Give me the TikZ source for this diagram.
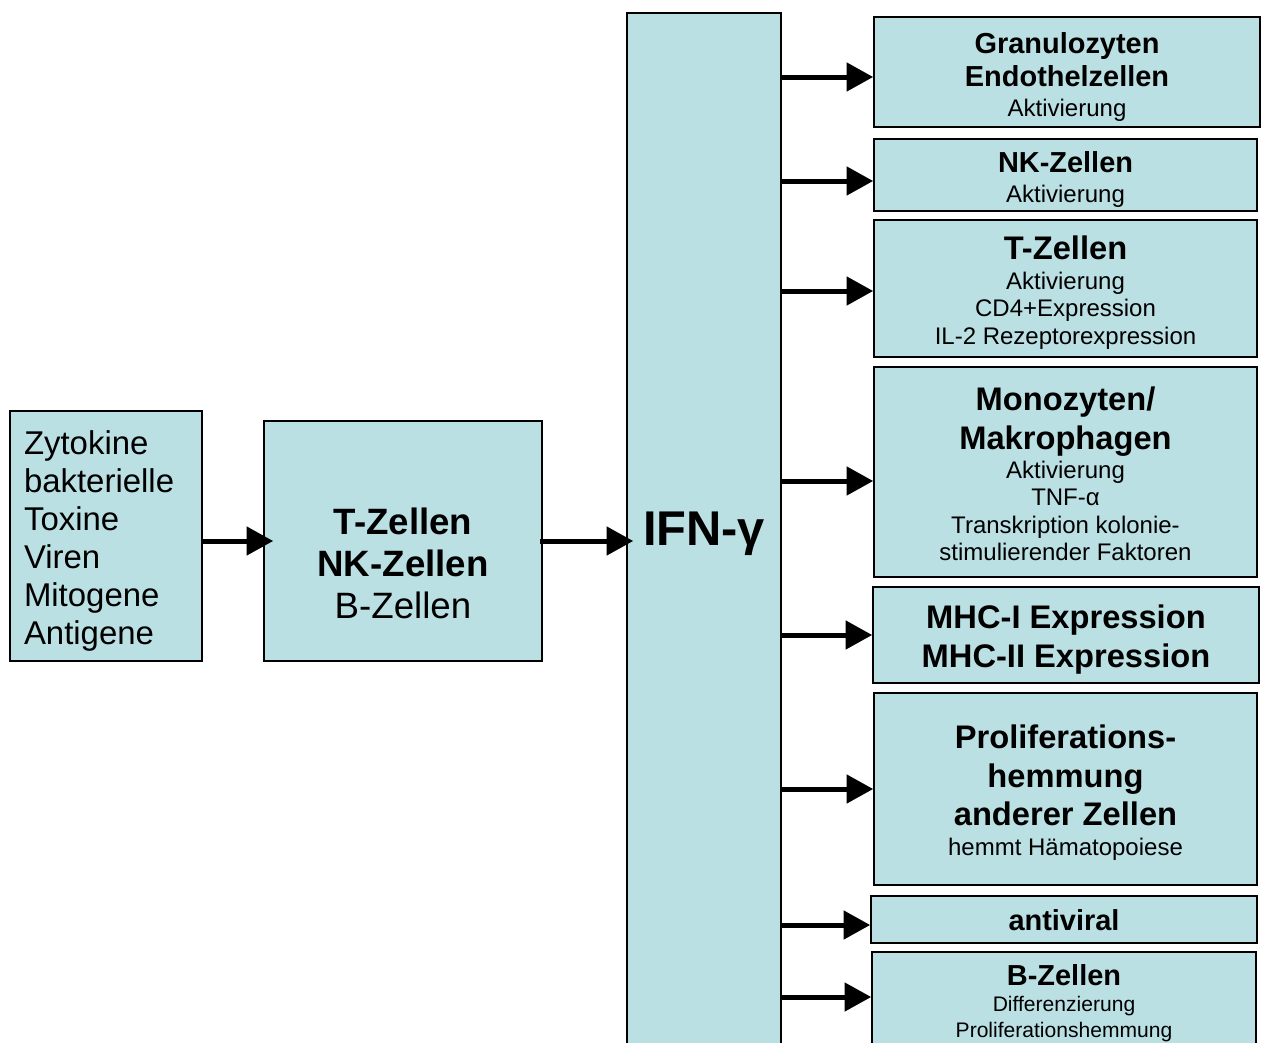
\documentclass[tikz,border=0pt]{standalone}
\usepackage{fontspec}
\setmainfont{Liberation Sans}
\usetikzlibrary{arrows.meta}

\definecolor{hellblau}{RGB}{187,224,227}
\newcommand{\kopf}{\fontsize{21.7pt}{24.75pt}\selectfont\bfseries}
\newcommand{\kopfgross}{\fontsize{24.5pt}{29pt}\selectfont\bfseries}
\newcommand{\klein}{\fontsize{18pt}{20.5pt}\selectfont}
\newcommand{\winzig}{\fontsize{15.8pt}{19pt}\selectfont}

\tikzset{
	feld/.style 2 args={draw, line width=1.2pt, fill=hellblau, inner sep=0pt,
		minimum width=#1*0.75pt, minimum height=#2*0.75pt},
	inhalt/.style={inner sep=0pt, align=center, font=\klein, yshift=-#1*0.75pt},
	pfeil/.style={-{Triangle[length=20pt,width=21pt]}, line width=3.75pt},
}

\begin{document}
\begin{tikzpicture}[x=0.75pt, y=-0.75pt]
	\path[use as bounding box, clip] (0,0) rectangle (1262,1042);

	% links: Ausloeser und Produzenten
	\node[feld={192}{250}] (quelle) at (106,536) {};
	\node[inhalt=4.5, text width=123pt, align=left, font=\fontsize{24.7pt}{28.5pt}\selectfont]
		(tquelle) at (quelle) {Zytokine\\bakterielle\\Toxine\\Viren\\Mitogene\\Antigene};
	\node[feld={278}{240}] (tz) at (403,541) {};
	\node[inhalt=22, font=\fontsize{27.5pt}{31.5pt}\selectfont] (ttz) at (tz)
		{\textbf{T-Zellen}\\\textbf{NK-Zellen}\\B-Zellen};
	\node[feld={154}{1034}] (ifn) at (704,530) {};
	\node[inhalt=4, font=\fontsize{36.6pt}{40pt}\selectfont\bfseries] (tifn) at (ifn) {IFN-γ};

	% rechts: Wirkungen
	\node[feld={386}{110}] (g1) at (1067,72) {};
	\node[feld={383}{72}] (g2) at (1065.5,175) {};
	\node[feld={383}{137}] (g3) at (1065.5,288.5) {};
	\node[feld={383}{210}] (g4) at (1065.5,472) {};
	\node[feld={386}{96}] (g5) at (1066,635) {};
	\node[feld={383}{192}] (g6) at (1065.5,789) {};
	\node[feld={386}{47}] (g7) at (1064,919.5) {};
	\node[feld={384}{98}] (g8) at (1064,1001) {};

	\node[inhalt=5] (t1) at (g1)
		{{\kopf Granulozyten}\\[4.25pt]{\kopf Endothelzellen}\\[2pt]Aktivierung};
	\node[inhalt=5] (t2) at (g2) {{\kopf NK-Zellen}\\[2pt]Aktivierung};
	\node[inhalt=4] (t3) at (g3)
		{{\kopfgross T-Zellen}\\[2pt]Aktivierung\\CD4+Expression\\IL-2 Rezeptorexpression};
	\node[inhalt=2] (t4) at (g4)
		{{\kopfgross Monozyten/}\\[5.5pt]{\kopfgross Makrophagen}\\[1pt]Aktivierung\\TNF-α\\Transkription kolonie-\\stimulierender Faktoren};
	\node[inhalt=4.5] (t5) at (g5) {{\kopfgross MHC-I Expression}\\[4.75pt]{\kopfgross MHC-II Expression}};
	\node[inhalt=4] (t6) at (g6)
		{{\kopfgross Proliferations-}\\[8.5pt]{\kopfgross hemmung}\\[4.75pt]{\kopfgross anderer Zellen}\\[2pt]hemmt Hämatopoiese};
	\node[inhalt=1] (t7) at (g7) {\kopf antiviral};
	\node[inhalt=2] (t8) at (g8)
		{{\kopf B-Zellen}\\[-1pt]{\winzig Differenzierung}\\[-1pt]{\winzig Proliferationshemmung}};

	\draw[pfeil, shorten >=-7.5pt] (quelle.east |- tz) -- (tz.west);
	\draw[pfeil, shorten <=-2.25pt, shorten >=-5.25pt] (tz.east) -- (ifn.west |- tz);

	\foreach \i/\dy in {1/5, 2/6, 3/2.5, 4/9, 5/0, 6/0, 7/5.5, 8/-4} {
		\coordinate (e\i) at ([yshift=-\dy*0.75pt]g\i.west);
		\draw[pfeil, shorten <=-1.5pt] (ifn.east |- e\i) -- (e\i);
	}
\end{tikzpicture}
\end{document}
